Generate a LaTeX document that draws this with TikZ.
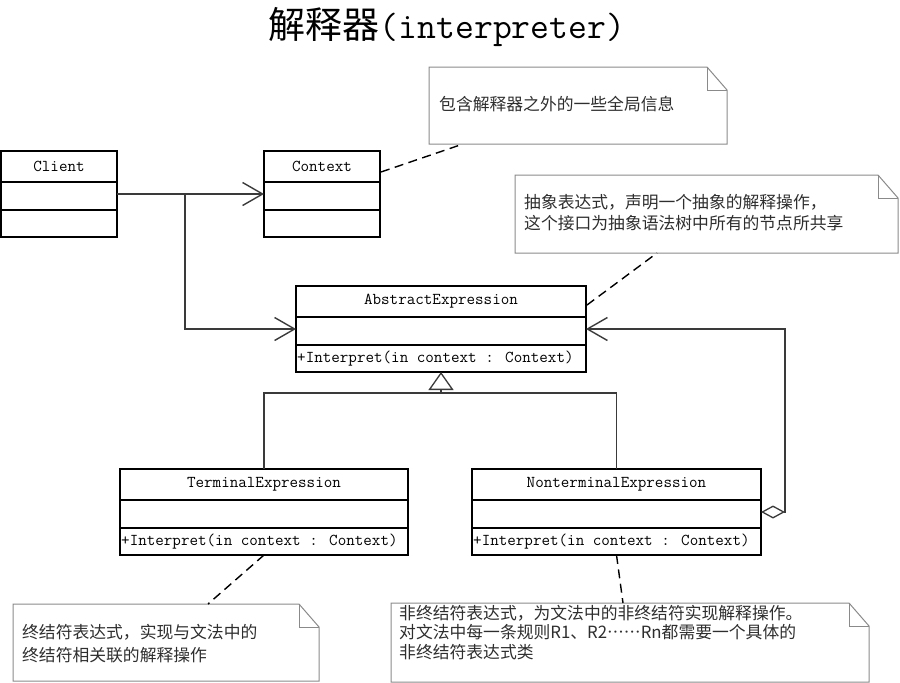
\documentclass[tikz,border=0pt]{standalone}
\usepackage{fontspec}
\usetikzlibrary{arrows.meta,calc}
\newfontfamily\cjkfont[Script=CJK, Language=Chinese Simplified]{Noto Sans CJK SC}
\newfontfamily\monofont{Latin Modern Mono}

\definecolor{linegray}{HTML}{3A3A3A}
\definecolor{notegray}{HTML}{8A8A8A}
\definecolor{notetext}{HTML}{2E2E2E}

\tikzset{
  classbox/.style={draw, line width=1.3pt, anchor=north west, inner sep=0pt, outer sep=0pt},
  classsep/.style={line width=1.3pt},
  classtext/.style={font=\monofont\fontsize{16.6}{18}\selectfont, inner sep=0pt},
  notearea/.style={anchor=north west, inner sep=0pt, outer sep=0pt},
  noteline/.style={draw=notegray, line width=1pt, line join=miter},
  notetextstyle/.style={font=\cjkfont\fontsize{16.8}{21}\selectfont, text=notetext, align=left, anchor=west, inner sep=0pt},
  openhead/.style={-{Straight Barb[length=20pt,width=23pt,line width=1.4pt]}},
  assoc/.style={draw=linegray, line width=1.1pt, openhead},
  gen/.style={draw=linegray, line width=1.1pt},
  anchorline/.style={line width=1.4pt, dash pattern=on 9pt off 5.5pt}
}

% name, x, y, width, title
\newcommand\umlclass[5]{%
  \node[classbox, minimum width=#4pt, minimum height=86pt] (#1) at (#2,#3) {};
  \draw[classsep] ($(#1.north west)+(0,31)$) -- ($(#1.north east)+(0,31)$);
  \draw[classsep] ($(#1.north west)+(0,59)$) -- ($(#1.north east)+(0,59)$);
  \node[classtext] (#1-name) at ($(#1.north)+(0,15.5)$) {#5};
}
% operation line of a class
\newcommand\umlop[2]{%
  \node[classtext, anchor=west] (#1-op) at ($(#1.south west)+(1,-13.5)$) {#2};
}
% note with folded corner: name, x1, y1, x2, y2
\newcommand\umlnote[5]{%
  \node[notearea, minimum width=#4pt-#2pt, minimum height=#5pt-#3pt] (#1) at (#2,#3) {};
  \draw[noteline] (#1.north west) -- ($(#1.north east)+(-20,0)$) -- ($(#1.north east)+(0,23)$)
    -- (#1.south east) -- (#1.south west) -- cycle;
  \draw[noteline] ($(#1.north east)+(-20,0)$) -- ($(#1.north east)+(-20,23)$) -- ($(#1.north east)+(0,23)$);
}

\begin{document}
\begin{tikzpicture}[x=1pt, y=-1pt]
  \useasboundingbox (0,0) rectangle (900,683);

  % title
  \node (title) at (447,27) {\cjkfont\fontsize{37}{40}\selectfont 解释器\monofont\fontsize{36.6}{40}\selectfont(interpreter)};

  % classes
  \umlclass{client}{1}{151}{116}{Client}
  \umlclass{context}{264}{151}{116}{Context}
  \umlclass{abs}{296}{286}{290}{AbstractExpression}
  \umlop{abs}{+Interpret(in context : Context)}
  \umlclass{term}{120}{469}{288}{TerminalExpression}
  \umlop{term}{+Interpret(in context : Context)}
  \umlclass{nonterm}{472}{469}{289}{NonterminalExpression}
  \umlop{nonterm}{+Interpret(in context : Context)}

  % notes
  \umlnote{note1}{429}{67}{727}{144}
  \node[notetextstyle] (note1-text) at (439,104) {包含解释器之外的一些全局信息};
  \umlnote{note2}{515}{175}{898}{253}
  \node[notetextstyle] (note2-text) at (524,212.5) {抽象表达式，声明一个抽象的解释操作，\\这个接口为抽象语法树中所有的节点所共享};
  \umlnote{note3}{13}{604}{319}{681}
  \node[notetextstyle, font=\cjkfont\fontsize{16.8}{23}\selectfont] (note3-text) at (22,644) {终结符表达式，实现与文法中的\\终结符相关联的解释操作};
  \umlnote{note4}{391}{603}{869}{682}
  \node[notetextstyle, font=\cjkfont\fontsize{16.8}{19.5}\selectfont] (note4-text) at (399,632.5) {非终结符表达式，为文法中的非终结符实现解释操作。\\对文法中每一条规则R1、R2……Rn都需要一个具体的\\非终结符表达式类};

  % associations
  \draw[assoc] (client.east) -- (context.west);
  \coordinate (fork) at (185,194);
  \draw[assoc] (fork) |- (abs.west);

  % generalisation
  \coordinate (genbar) at (441,393);
  \draw[gen] (term.north) |- (genbar) -| (nonterm.north);
  \draw[gen, -{Triangle[open, length=18pt, width=25pt, line width=1.3pt, fill=white]}] (genbar) -- (abs.south);

  % aggregation
  \draw[assoc, {Diamond[open, length=24pt, width=13pt, line width=1.3pt, fill=white]}-{Straight Barb[length=20pt,width=23pt,line width=1.4pt]}]
    (nonterm.east) -- ++(24,0) |- (abs.east);

  % note anchors
  \draw[anchorline] ($(context.north east)+(1,21)$) -- ($(note1.south west)+(34,0)$);
  \draw[anchorline] ($(abs.north east)+(1,19)$) -- ($(note2.south west)+(142,0)$);
  \draw[anchorline] (term.south) -- ($(note3.north west)+(195,0)$);
  \draw[anchorline] (nonterm.south) -- ($(note4.north west)+(232,0)$);
\end{tikzpicture}
\end{document}
